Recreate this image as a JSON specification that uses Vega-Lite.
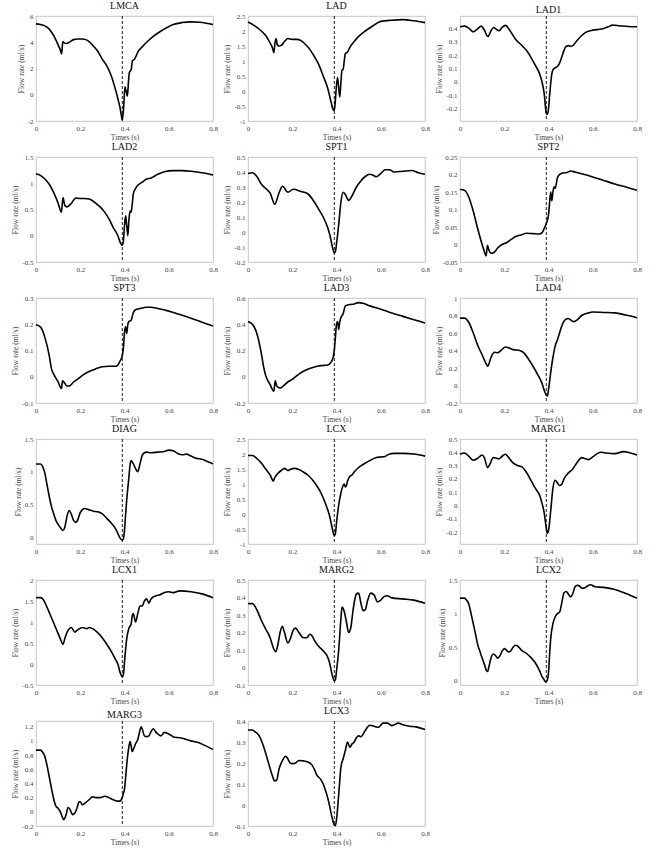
{
"$schema":"https://vega.github.io/schema/vega-lite/v6.json",
"padding":{"left":11,"top":0,"right":5,"bottom":0},
"background":"white",
"config":{
 "view":{"stroke":"#b8b8b8","strokeWidth":0.8},
 "axis":{"labelFont":"Liberation Serif","titleFont":"Liberation Serif","labelFontSize":7,"titleFontSize":7.5,"titleFontWeight":"normal","labelColor":"#444","titleColor":"#444","grid":false,"ticks":false,"domain":false,"labelPadding":3,"titlePadding":2,"labelFlush":false,"labelOverlap":false,"labelExpr":"'' + datum.value"},
 "title":{"font":"Liberation Serif","fontSize":10,"fontWeight":"normal","color":"#111","offset":1},
 "line":{"color":"black","strokeWidth":1.6,"interpolate":"monotone","clip":true},
 "rule":{"color":"black","strokeWidth":0.9,"strokeDash":[3,2]}
},
"datasets":{
 "marker":[{"t":0.39}],
 "LMCA":[{"t":0,"q":5.4},{"t":0.02,"q":5.35},{"t":0.04,"q":5.25},{"t":0.06,"q":5.0},{"t":0.08,"q":4.5},{"t":0.1,"q":3.8},{"t":0.11,"q":3.4},{"t":0.116,"q":3.1},{"t":0.121,"q":4.05},{"t":0.127,"q":3.95},{"t":0.137,"q":3.9},{"t":0.15,"q":4.0},{"t":0.17,"q":4.2},{"t":0.19,"q":4.25},{"t":0.21,"q":4.25},{"t":0.225,"q":4.2},{"t":0.24,"q":4.05},{"t":0.26,"q":3.7},{"t":0.28,"q":3.3},{"t":0.3,"q":2.7},{"t":0.32,"q":2.2},{"t":0.34,"q":1.45},{"t":0.36,"q":0.35},{"t":0.37,"q":-0.3},{"t":0.38,"q":-1.0},{"t":0.385,"q":-1.5},{"t":0.39,"q":-1.95},{"t":0.396,"q":-1.0},{"t":0.402,"q":0.6},{"t":0.407,"q":0.3},{"t":0.413,"q":-0.1},{"t":0.418,"q":1.0},{"t":0.422,"q":1.7},{"t":0.43,"q":1.9},{"t":0.436,"q":2.6},{"t":0.445,"q":2.7},{"t":0.462,"q":3.3},{"t":0.48,"q":3.65},{"t":0.5,"q":4.0},{"t":0.53,"q":4.45},{"t":0.56,"q":4.8},{"t":0.59,"q":5.1},{"t":0.62,"q":5.35},{"t":0.66,"q":5.5},{"t":0.7,"q":5.55},{"t":0.74,"q":5.52},{"t":0.77,"q":5.45},{"t":0.8,"q":5.35}],
 "LAD":[{"t":0,"q":2.3},{"t":0.02,"q":2.22},{"t":0.04,"q":2.12},{"t":0.06,"q":2.0},{"t":0.08,"q":1.85},{"t":0.1,"q":1.6},{"t":0.11,"q":1.45},{"t":0.117,"q":1.28},{"t":0.122,"q":1.6},{"t":0.127,"q":1.75},{"t":0.132,"q":1.55},{"t":0.14,"q":1.5},{"t":0.15,"q":1.52},{"t":0.165,"q":1.65},{"t":0.18,"q":1.75},{"t":0.2,"q":1.72},{"t":0.22,"q":1.72},{"t":0.24,"q":1.68},{"t":0.26,"q":1.55},{"t":0.28,"q":1.38},{"t":0.3,"q":1.15},{"t":0.32,"q":0.88},{"t":0.34,"q":0.5},{"t":0.36,"q":0.1},{"t":0.375,"q":-0.35},{"t":0.385,"q":-0.62},{"t":0.39,"q":-0.65},{"t":0.395,"q":-0.3},{"t":0.4,"q":0.2},{"t":0.405,"q":0.45},{"t":0.41,"q":0.1},{"t":0.415,"q":-0.2},{"t":0.42,"q":0.3},{"t":0.425,"q":0.7},{"t":0.43,"q":0.72},{"t":0.435,"q":1.0},{"t":0.44,"q":1.25},{"t":0.45,"q":1.3},{"t":0.46,"q":1.45},{"t":0.48,"q":1.65},{"t":0.5,"q":1.82},{"t":0.53,"q":2.0},{"t":0.56,"q":2.15},{"t":0.6,"q":2.32},{"t":0.65,"q":2.36},{"t":0.7,"q":2.38},{"t":0.75,"q":2.34},{"t":0.8,"q":2.28}],
 "LAD1":[{"t":0,"q":0.41},{"t":0.02,"q":0.415},{"t":0.04,"q":0.4},{"t":0.059,"q":0.372},{"t":0.08,"q":0.395},{"t":0.096,"q":0.415},{"t":0.11,"q":0.385},{"t":0.126,"q":0.338},{"t":0.14,"q":0.38},{"t":0.152,"q":0.405},{"t":0.165,"q":0.39},{"t":0.176,"q":0.38},{"t":0.19,"q":0.405},{"t":0.206,"q":0.42},{"t":0.22,"q":0.395},{"t":0.25,"q":0.32},{"t":0.28,"q":0.27},{"t":0.3,"q":0.235},{"t":0.32,"q":0.185},{"t":0.34,"q":0.125},{"t":0.36,"q":0.06},{"t":0.37,"q":0.005},{"t":0.38,"q":-0.08},{"t":0.39,"q":-0.23},{"t":0.395,"q":-0.24},{"t":0.4,"q":-0.2},{"t":0.405,"q":-0.1},{"t":0.41,"q":-0.01},{"t":0.415,"q":0.06},{"t":0.42,"q":0.09},{"t":0.43,"q":0.105},{"t":0.44,"q":0.115},{"t":0.45,"q":0.14},{"t":0.46,"q":0.185},{"t":0.47,"q":0.235},{"t":0.48,"q":0.265},{"t":0.49,"q":0.27},{"t":0.5,"q":0.265},{"t":0.51,"q":0.27},{"t":0.53,"q":0.31},{"t":0.55,"q":0.345},{"t":0.57,"q":0.37},{"t":0.6,"q":0.385},{"t":0.64,"q":0.393},{"t":0.67,"q":0.41},{"t":0.69,"q":0.422},{"t":0.72,"q":0.418},{"t":0.76,"q":0.412},{"t":0.8,"q":0.41}],
 "LAD2":[{"t":0,"q":1.18},{"t":0.02,"q":1.15},{"t":0.04,"q":1.08},{"t":0.06,"q":0.98},{"t":0.08,"q":0.82},{"t":0.1,"q":0.62},{"t":0.115,"q":0.45},{"t":0.122,"q":0.73},{"t":0.13,"q":0.58},{"t":0.14,"q":0.55},{"t":0.16,"q":0.62},{"t":0.18,"q":0.72},{"t":0.2,"q":0.71},{"t":0.22,"q":0.71},{"t":0.24,"q":0.7},{"t":0.25,"q":0.68},{"t":0.27,"q":0.62},{"t":0.29,"q":0.55},{"t":0.31,"q":0.45},{"t":0.33,"q":0.32},{"t":0.35,"q":0.15},{"t":0.37,"q":0.0},{"t":0.38,"q":-0.12},{"t":0.39,"q":-0.18},{"t":0.395,"q":-0.1},{"t":0.4,"q":0.2},{"t":0.405,"q":0.38},{"t":0.41,"q":0.2},{"t":0.415,"q":0.0},{"t":0.42,"q":0.3},{"t":0.425,"q":0.47},{"t":0.43,"q":0.45},{"t":0.435,"q":0.6},{"t":0.44,"q":0.8},{"t":0.45,"q":0.9},{"t":0.46,"q":0.96},{"t":0.48,"q":1.02},{"t":0.5,"q":1.08},{"t":0.52,"q":1.1},{"t":0.55,"q":1.17},{"t":0.58,"q":1.22},{"t":0.62,"q":1.24},{"t":0.66,"q":1.24},{"t":0.7,"q":1.23},{"t":0.75,"q":1.2},{"t":0.8,"q":1.16}],
 "SPT1":[{"t":0,"q":0.39},{"t":0.02,"q":0.395},{"t":0.04,"q":0.37},{"t":0.06,"q":0.32},{"t":0.08,"q":0.29},{"t":0.1,"q":0.26},{"t":0.121,"q":0.185},{"t":0.14,"q":0.26},{"t":0.156,"q":0.305},{"t":0.18,"q":0.265},{"t":0.205,"q":0.285},{"t":0.24,"q":0.27},{"t":0.27,"q":0.255},{"t":0.3,"q":0.2},{"t":0.32,"q":0.15},{"t":0.34,"q":0.1},{"t":0.36,"q":0.03},{"t":0.37,"q":-0.02},{"t":0.38,"q":-0.09},{"t":0.39,"q":-0.14},{"t":0.395,"q":-0.13},{"t":0.4,"q":-0.08},{"t":0.41,"q":0.05},{"t":0.42,"q":0.2},{"t":0.43,"q":0.265},{"t":0.44,"q":0.25},{"t":0.45,"q":0.22},{"t":0.455,"q":0.21},{"t":0.47,"q":0.24},{"t":0.49,"q":0.3},{"t":0.51,"q":0.34},{"t":0.53,"q":0.37},{"t":0.55,"q":0.385},{"t":0.57,"q":0.375},{"t":0.58,"q":0.368},{"t":0.6,"q":0.39},{"t":0.62,"q":0.415},{"t":0.64,"q":0.415},{"t":0.66,"q":0.4},{"t":0.7,"q":0.405},{"t":0.74,"q":0.41},{"t":0.77,"q":0.395},{"t":0.8,"q":0.385}],
 "SPT2":[{"t":0,"q":0.157},{"t":0.02,"q":0.155},{"t":0.04,"q":0.135},{"t":0.06,"q":0.095},{"t":0.08,"q":0.045},{"t":0.1,"q":0.0},{"t":0.11,"q":-0.02},{"t":0.118,"q":-0.033},{"t":0.124,"q":-0.002},{"t":0.13,"q":-0.015},{"t":0.14,"q":-0.025},{"t":0.155,"q":-0.022},{"t":0.17,"q":-0.01},{"t":0.19,"q":0.0},{"t":0.21,"q":0.005},{"t":0.23,"q":0.014},{"t":0.25,"q":0.022},{"t":0.28,"q":0.028},{"t":0.3,"q":0.032},{"t":0.33,"q":0.031},{"t":0.36,"q":0.03},{"t":0.37,"q":0.033},{"t":0.38,"q":0.045},{"t":0.39,"q":0.06},{"t":0.4,"q":0.085},{"t":0.405,"q":0.12},{"t":0.41,"q":0.15},{"t":0.415,"q":0.125},{"t":0.42,"q":0.15},{"t":0.425,"q":0.165},{"t":0.43,"q":0.16},{"t":0.44,"q":0.19},{"t":0.45,"q":0.2},{"t":0.47,"q":0.205},{"t":0.48,"q":0.205},{"t":0.5,"q":0.21},{"t":0.52,"q":0.207},{"t":0.55,"q":0.202},{"t":0.6,"q":0.193},{"t":0.65,"q":0.183},{"t":0.7,"q":0.173},{"t":0.75,"q":0.164},{"t":0.8,"q":0.155}],
 "SPT3":[{"t":0,"q":0.198},{"t":0.02,"q":0.19},{"t":0.04,"q":0.15},{"t":0.06,"q":0.08},{"t":0.07,"q":0.03},{"t":0.08,"q":0.01},{"t":0.1,"q":-0.02},{"t":0.115,"q":-0.045},{"t":0.12,"q":-0.015},{"t":0.13,"q":-0.025},{"t":0.14,"q":-0.035},{"t":0.15,"q":-0.035},{"t":0.17,"q":-0.02},{"t":0.19,"q":-0.008},{"t":0.21,"q":0.005},{"t":0.24,"q":0.02},{"t":0.27,"q":0.03},{"t":0.3,"q":0.038},{"t":0.33,"q":0.04},{"t":0.36,"q":0.04},{"t":0.37,"q":0.045},{"t":0.38,"q":0.06},{"t":0.39,"q":0.08},{"t":0.395,"q":0.11},{"t":0.4,"q":0.17},{"t":0.405,"q":0.19},{"t":0.41,"q":0.165},{"t":0.415,"q":0.2},{"t":0.42,"q":0.21},{"t":0.43,"q":0.215},{"t":0.44,"q":0.245},{"t":0.45,"q":0.255},{"t":0.47,"q":0.26},{"t":0.5,"q":0.265},{"t":0.52,"q":0.265},{"t":0.55,"q":0.26},{"t":0.6,"q":0.25},{"t":0.65,"q":0.237},{"t":0.7,"q":0.223},{"t":0.75,"q":0.208},{"t":0.8,"q":0.193}],
 "LAD3":[{"t":0,"q":0.42},{"t":0.02,"q":0.4},{"t":0.04,"q":0.33},{"t":0.06,"q":0.18},{"t":0.07,"q":0.08},{"t":0.08,"q":0.01},{"t":0.1,"q":-0.06},{"t":0.117,"q":-0.11},{"t":0.123,"q":-0.03},{"t":0.13,"q":-0.07},{"t":0.145,"q":-0.085},{"t":0.16,"q":-0.07},{"t":0.18,"q":-0.04},{"t":0.2,"q":-0.02},{"t":0.23,"q":0.02},{"t":0.26,"q":0.05},{"t":0.3,"q":0.075},{"t":0.33,"q":0.085},{"t":0.36,"q":0.09},{"t":0.375,"q":0.11},{"t":0.385,"q":0.15},{"t":0.39,"q":0.2},{"t":0.395,"q":0.3},{"t":0.4,"q":0.4},{"t":0.405,"q":0.42},{"t":0.41,"q":0.36},{"t":0.415,"q":0.42},{"t":0.42,"q":0.45},{"t":0.43,"q":0.48},{"t":0.44,"q":0.54},{"t":0.46,"q":0.55},{"t":0.48,"q":0.555},{"t":0.5,"q":0.565},{"t":0.52,"q":0.56},{"t":0.55,"q":0.54},{"t":0.6,"q":0.515},{"t":0.65,"q":0.485},{"t":0.7,"q":0.46},{"t":0.75,"q":0.435},{"t":0.8,"q":0.41}],
 "LAD4":[{"t":0,"q":0.77},{"t":0.02,"q":0.77},{"t":0.04,"q":0.72},{"t":0.06,"q":0.6},{"t":0.08,"q":0.46},{"t":0.1,"q":0.35},{"t":0.12,"q":0.24},{"t":0.125,"q":0.22},{"t":0.14,"q":0.32},{"t":0.155,"q":0.38},{"t":0.17,"q":0.375},{"t":0.185,"q":0.4},{"t":0.205,"q":0.44},{"t":0.22,"q":0.43},{"t":0.24,"q":0.41},{"t":0.27,"q":0.4},{"t":0.29,"q":0.37},{"t":0.31,"q":0.3},{"t":0.33,"q":0.22},{"t":0.35,"q":0.13},{"t":0.37,"q":0.03},{"t":0.38,"q":-0.05},{"t":0.39,"q":-0.11},{"t":0.395,"q":-0.12},{"t":0.4,"q":-0.05},{"t":0.41,"q":0.15},{"t":0.42,"q":0.32},{"t":0.43,"q":0.45},{"t":0.44,"q":0.52},{"t":0.45,"q":0.6},{"t":0.46,"q":0.68},{"t":0.475,"q":0.75},{"t":0.49,"q":0.765},{"t":0.5,"q":0.75},{"t":0.515,"q":0.73},{"t":0.53,"q":0.75},{"t":0.55,"q":0.8},{"t":0.58,"q":0.83},{"t":0.6,"q":0.84},{"t":0.65,"q":0.835},{"t":0.7,"q":0.83},{"t":0.75,"q":0.805},{"t":0.8,"q":0.775}],
 "DIAG":[{"t":0,"q":1.12},{"t":0.02,"q":1.12},{"t":0.03,"q":1.08},{"t":0.04,"q":0.98},{"t":0.05,"q":0.8},{"t":0.06,"q":0.62},{"t":0.07,"q":0.47},{"t":0.08,"q":0.36},{"t":0.09,"q":0.26},{"t":0.1,"q":0.2},{"t":0.11,"q":0.15},{"t":0.122,"q":0.105},{"t":0.13,"q":0.15},{"t":0.14,"q":0.32},{"t":0.15,"q":0.41},{"t":0.16,"q":0.35},{"t":0.17,"q":0.26},{"t":0.18,"q":0.23},{"t":0.19,"q":0.28},{"t":0.2,"q":0.38},{"t":0.22,"q":0.44},{"t":0.24,"q":0.42},{"t":0.26,"q":0.4},{"t":0.28,"q":0.39},{"t":0.3,"q":0.36},{"t":0.32,"q":0.29},{"t":0.34,"q":0.22},{"t":0.36,"q":0.13},{"t":0.37,"q":0.06},{"t":0.38,"q":-0.01},{"t":0.39,"q":-0.04},{"t":0.395,"q":-0.02},{"t":0.4,"q":0.11},{"t":0.405,"q":0.35},{"t":0.41,"q":0.57},{"t":0.42,"q":0.92},{"t":0.425,"q":1.1},{"t":0.43,"q":1.17},{"t":0.44,"q":1.12},{"t":0.45,"q":1.05},{"t":0.46,"q":1.0},{"t":0.47,"q":1.12},{"t":0.48,"q":1.25},{"t":0.49,"q":1.29},{"t":0.5,"q":1.3},{"t":0.52,"q":1.29},{"t":0.55,"q":1.3},{"t":0.58,"q":1.31},{"t":0.6,"q":1.33},{"t":0.62,"q":1.32},{"t":0.64,"q":1.28},{"t":0.66,"q":1.26},{"t":0.68,"q":1.27},{"t":0.7,"q":1.24},{"t":0.72,"q":1.21},{"t":0.75,"q":1.19},{"t":0.78,"q":1.15},{"t":0.8,"q":1.12}],
 "LCX":[{"t":0,"q":1.95},{"t":0.02,"q":1.95},{"t":0.04,"q":1.85},{"t":0.06,"q":1.7},{"t":0.08,"q":1.5},{"t":0.1,"q":1.3},{"t":0.115,"q":1.1},{"t":0.12,"q":1.2},{"t":0.135,"q":1.35},{"t":0.15,"q":1.45},{"t":0.165,"q":1.52},{"t":0.18,"q":1.45},{"t":0.195,"q":1.5},{"t":0.21,"q":1.52},{"t":0.23,"q":1.48},{"t":0.25,"q":1.4},{"t":0.27,"q":1.3},{"t":0.29,"q":1.15},{"t":0.31,"q":0.95},{"t":0.33,"q":0.7},{"t":0.35,"q":0.35},{"t":0.37,"q":-0.1},{"t":0.38,"q":-0.45},{"t":0.39,"q":-0.72},{"t":0.395,"q":-0.65},{"t":0.4,"q":-0.3},{"t":0.41,"q":0.3},{"t":0.42,"q":0.7},{"t":0.43,"q":0.95},{"t":0.435,"q":1.0},{"t":0.44,"q":0.9},{"t":0.445,"q":0.95},{"t":0.45,"q":1.1},{"t":0.46,"q":1.25},{"t":0.47,"q":1.3},{"t":0.48,"q":1.4},{"t":0.5,"q":1.55},{"t":0.52,"q":1.65},{"t":0.55,"q":1.78},{"t":0.58,"q":1.88},{"t":0.6,"q":1.9},{"t":0.62,"q":1.92},{"t":0.64,"q":2.0},{"t":0.66,"q":2.02},{"t":0.7,"q":2.02},{"t":0.75,"q":2.0},{"t":0.8,"q":1.93}],
 "MARG1":[{"t":0,"q":0.385},{"t":0.02,"q":0.395},{"t":0.04,"q":0.37},{"t":0.06,"q":0.34},{"t":0.08,"q":0.355},{"t":0.1,"q":0.38},{"t":0.11,"q":0.36},{"t":0.125,"q":0.285},{"t":0.135,"q":0.31},{"t":0.15,"q":0.36},{"t":0.165,"q":0.355},{"t":0.175,"q":0.35},{"t":0.19,"q":0.37},{"t":0.205,"q":0.385},{"t":0.22,"q":0.36},{"t":0.24,"q":0.32},{"t":0.26,"q":0.3},{"t":0.28,"q":0.29},{"t":0.3,"q":0.25},{"t":0.32,"q":0.19},{"t":0.34,"q":0.13},{"t":0.36,"q":0.076},{"t":0.37,"q":0.02},{"t":0.38,"q":-0.05},{"t":0.39,"q":-0.17},{"t":0.395,"q":-0.21},{"t":0.4,"q":-0.19},{"t":0.41,"q":-0.04},{"t":0.42,"q":0.13},{"t":0.43,"q":0.19},{"t":0.44,"q":0.17},{"t":0.45,"q":0.15},{"t":0.46,"q":0.16},{"t":0.47,"q":0.2},{"t":0.49,"q":0.245},{"t":0.51,"q":0.275},{"t":0.53,"q":0.325},{"t":0.55,"q":0.36},{"t":0.57,"q":0.35},{"t":0.58,"q":0.345},{"t":0.6,"q":0.365},{"t":0.62,"q":0.39},{"t":0.64,"q":0.4},{"t":0.66,"q":0.395},{"t":0.7,"q":0.39},{"t":0.74,"q":0.405},{"t":0.77,"q":0.395},{"t":0.8,"q":0.38}],
 "LCX1":[{"t":0,"q":1.58},{"t":0.02,"q":1.58},{"t":0.03,"q":1.55},{"t":0.05,"q":1.35},{"t":0.07,"q":1.1},{"t":0.09,"q":0.85},{"t":0.11,"q":0.6},{"t":0.122,"q":0.47},{"t":0.13,"q":0.6},{"t":0.14,"q":0.75},{"t":0.16,"q":0.87},{"t":0.175,"q":0.76},{"t":0.19,"q":0.82},{"t":0.21,"q":0.87},{"t":0.23,"q":0.84},{"t":0.24,"q":0.87},{"t":0.26,"q":0.83},{"t":0.28,"q":0.74},{"t":0.3,"q":0.62},{"t":0.32,"q":0.47},{"t":0.34,"q":0.3},{"t":0.36,"q":0.1},{"t":0.37,"q":0.0},{"t":0.38,"q":-0.2},{"t":0.39,"q":-0.3},{"t":0.395,"q":-0.25},{"t":0.4,"q":0.05},{"t":0.41,"q":0.6},{"t":0.42,"q":0.85},{"t":0.43,"q":0.95},{"t":0.435,"q":1.15},{"t":0.44,"q":1.2},{"t":0.45,"q":1.0},{"t":0.46,"q":1.2},{"t":0.47,"q":1.38},{"t":0.48,"q":1.38},{"t":0.49,"q":1.5},{"t":0.5,"q":1.55},{"t":0.51,"q":1.45},{"t":0.52,"q":1.55},{"t":0.54,"q":1.62},{"t":0.56,"q":1.65},{"t":0.58,"q":1.7},{"t":0.6,"q":1.72},{"t":0.62,"q":1.7},{"t":0.65,"q":1.74},{"t":0.7,"q":1.72},{"t":0.75,"q":1.67},{"t":0.8,"q":1.58}],
 "MARG2":[{"t":0,"q":0.365},{"t":0.02,"q":0.365},{"t":0.04,"q":0.33},{"t":0.06,"q":0.27},{"t":0.08,"q":0.22},{"t":0.1,"q":0.17},{"t":0.115,"q":0.11},{"t":0.125,"q":0.09},{"t":0.135,"q":0.13},{"t":0.145,"q":0.2},{"t":0.155,"q":0.235},{"t":0.165,"q":0.2},{"t":0.18,"q":0.14},{"t":0.19,"q":0.16},{"t":0.205,"q":0.215},{"t":0.215,"q":0.225},{"t":0.23,"q":0.2},{"t":0.25,"q":0.17},{"t":0.265,"q":0.17},{"t":0.28,"q":0.19},{"t":0.29,"q":0.18},{"t":0.3,"q":0.155},{"t":0.32,"q":0.12},{"t":0.34,"q":0.095},{"t":0.36,"q":0.06},{"t":0.37,"q":0.02},{"t":0.38,"q":-0.04},{"t":0.39,"q":-0.075},{"t":0.395,"q":-0.07},{"t":0.4,"q":-0.02},{"t":0.41,"q":0.1},{"t":0.42,"q":0.28},{"t":0.425,"q":0.345},{"t":0.435,"q":0.32},{"t":0.445,"q":0.26},{"t":0.455,"q":0.2},{"t":0.465,"q":0.23},{"t":0.475,"q":0.33},{"t":0.49,"q":0.42},{"t":0.5,"q":0.425},{"t":0.51,"q":0.37},{"t":0.52,"q":0.325},{"t":0.53,"q":0.33},{"t":0.54,"q":0.38},{"t":0.555,"q":0.425},{"t":0.57,"q":0.415},{"t":0.585,"q":0.375},{"t":0.6,"q":0.385},{"t":0.615,"q":0.405},{"t":0.63,"q":0.41},{"t":0.65,"q":0.398},{"t":0.7,"q":0.392},{"t":0.75,"q":0.385},{"t":0.8,"q":0.367}],
 "LCX2":[{"t":0,"q":1.23},{"t":0.02,"q":1.23},{"t":0.03,"q":1.2},{"t":0.04,"q":1.14},{"t":0.05,"q":1.0},{"t":0.06,"q":0.85},{"t":0.07,"q":0.7},{"t":0.08,"q":0.54},{"t":0.09,"q":0.44},{"t":0.1,"q":0.34},{"t":0.11,"q":0.25},{"t":0.12,"q":0.15},{"t":0.125,"q":0.14},{"t":0.13,"q":0.2},{"t":0.14,"q":0.34},{"t":0.15,"q":0.4},{"t":0.16,"q":0.38},{"t":0.17,"q":0.34},{"t":0.18,"q":0.37},{"t":0.19,"q":0.44},{"t":0.2,"q":0.48},{"t":0.21,"q":0.46},{"t":0.22,"q":0.43},{"t":0.23,"q":0.45},{"t":0.24,"q":0.5},{"t":0.25,"q":0.53},{"t":0.26,"q":0.52},{"t":0.28,"q":0.45},{"t":0.3,"q":0.41},{"t":0.32,"q":0.35},{"t":0.34,"q":0.27},{"t":0.36,"q":0.15},{"t":0.37,"q":0.07},{"t":0.38,"q":0.02},{"t":0.385,"q":-0.01},{"t":0.39,"q":-0.01},{"t":0.395,"q":0.02},{"t":0.4,"q":0.12},{"t":0.405,"q":0.4},{"t":0.41,"q":0.63},{"t":0.42,"q":0.85},{"t":0.43,"q":0.95},{"t":0.44,"q":1.0},{"t":0.45,"q":1.02},{"t":0.46,"q":1.16},{"t":0.47,"q":1.31},{"t":0.48,"q":1.33},{"t":0.49,"q":1.29},{"t":0.5,"q":1.25},{"t":0.51,"q":1.3},{"t":0.52,"q":1.4},{"t":0.53,"q":1.42},{"t":0.54,"q":1.41},{"t":0.55,"q":1.38},{"t":0.56,"q":1.38},{"t":0.58,"q":1.42},{"t":0.59,"q":1.43},{"t":0.61,"q":1.4},{"t":0.65,"q":1.39},{"t":0.7,"q":1.36},{"t":0.75,"q":1.3},{"t":0.8,"q":1.23}],
 "MARG3":[{"t":0,"q":0.87},{"t":0.02,"q":0.87},{"t":0.03,"q":0.84},{"t":0.04,"q":0.78},{"t":0.05,"q":0.65},{"t":0.06,"q":0.49},{"t":0.07,"q":0.33},{"t":0.08,"q":0.18},{"t":0.09,"q":0.08},{"t":0.1,"q":0.05},{"t":0.11,"q":0.0},{"t":0.12,"q":-0.08},{"t":0.125,"q":-0.11},{"t":0.135,"q":-0.05},{"t":0.145,"q":0.06},{"t":0.15,"q":0.05},{"t":0.16,"q":-0.01},{"t":0.165,"q":-0.04},{"t":0.175,"q":-0.02},{"t":0.185,"q":0.05},{"t":0.195,"q":0.14},{"t":0.2,"q":0.14},{"t":0.21,"q":0.1},{"t":0.22,"q":0.12},{"t":0.24,"q":0.17},{"t":0.255,"q":0.21},{"t":0.27,"q":0.2},{"t":0.29,"q":0.2},{"t":0.31,"q":0.22},{"t":0.33,"q":0.2},{"t":0.35,"q":0.17},{"t":0.37,"q":0.15},{"t":0.38,"q":0.15},{"t":0.385,"q":0.17},{"t":0.39,"q":0.2},{"t":0.395,"q":0.26},{"t":0.4,"q":0.32},{"t":0.405,"q":0.48},{"t":0.41,"q":0.66},{"t":0.42,"q":0.92},{"t":0.425,"q":0.99},{"t":0.43,"q":0.93},{"t":0.435,"q":0.85},{"t":0.44,"q":0.88},{"t":0.45,"q":0.96},{"t":0.46,"q":1.02},{"t":0.47,"q":1.15},{"t":0.475,"q":1.2},{"t":0.48,"q":1.17},{"t":0.49,"q":1.07},{"t":0.5,"q":1.06},{"t":0.51,"q":1.07},{"t":0.52,"q":1.13},{"t":0.53,"q":1.17},{"t":0.54,"q":1.13},{"t":0.55,"q":1.1},{"t":0.565,"q":1.07},{"t":0.58,"q":1.12},{"t":0.59,"q":1.11},{"t":0.61,"q":1.08},{"t":0.625,"q":1.05},{"t":0.65,"q":1.045},{"t":0.67,"q":1.03},{"t":0.7,"q":1.0},{"t":0.73,"q":0.98},{"t":0.76,"q":0.94},{"t":0.8,"q":0.88}],
 "LCX3":[{"t":0,"q":0.357},{"t":0.02,"q":0.357},{"t":0.03,"q":0.35},{"t":0.05,"q":0.33},{"t":0.07,"q":0.28},{"t":0.09,"q":0.21},{"t":0.11,"q":0.14},{"t":0.12,"q":0.115},{"t":0.13,"q":0.12},{"t":0.14,"q":0.17},{"t":0.155,"q":0.21},{"t":0.17,"q":0.232},{"t":0.18,"q":0.22},{"t":0.19,"q":0.2},{"t":0.2,"q":0.197},{"t":0.215,"q":0.2},{"t":0.23,"q":0.212},{"t":0.25,"q":0.21},{"t":0.27,"q":0.205},{"t":0.29,"q":0.19},{"t":0.3,"q":0.17},{"t":0.31,"q":0.145},{"t":0.33,"q":0.12},{"t":0.34,"q":0.1},{"t":0.35,"q":0.07},{"t":0.36,"q":0.035},{"t":0.37,"q":-0.01},{"t":0.38,"q":-0.06},{"t":0.39,"q":-0.095},{"t":0.395,"q":-0.098},{"t":0.4,"q":-0.07},{"t":0.41,"q":0.05},{"t":0.42,"q":0.18},{"t":0.43,"q":0.22},{"t":0.44,"q":0.26},{"t":0.45,"q":0.3},{"t":0.46,"q":0.275},{"t":0.47,"q":0.29},{"t":0.48,"q":0.3},{"t":0.49,"q":0.32},{"t":0.5,"q":0.33},{"t":0.51,"q":0.325},{"t":0.53,"q":0.355},{"t":0.55,"q":0.38},{"t":0.57,"q":0.375},{"t":0.59,"q":0.37},{"t":0.61,"q":0.39},{"t":0.63,"q":0.39},{"t":0.65,"q":0.378},{"t":0.68,"q":0.39},{"t":0.7,"q":0.382},{"t":0.73,"q":0.375},{"t":0.76,"q":0.372},{"t":0.8,"q":0.36}]
},
"columns":3,
"spacing":{"row":36,"column":35},
"bounds":"flush",
"concat":[
 {"title":"LMCA","width":177,"height":105,"layer":[{"data":{"name":"LMCA"},"mark":"line","encoding":{"x":{"field":"t","type":"quantitative","scale":{"domain":[0,0.8],"nice":false},"axis":{"values":[0,0.2,0.4,0.6,0.8],"title":"Times (s)"}},"y":{"field":"q","type":"quantitative","scale":{"domain":[-2,6],"nice":false,"zero":false},"axis":{"values":[-2,0,2,4,6],"title":"Flow rate (ml/s)"}}}},{"data":{"name":"marker"},"mark":"rule","encoding":{"x":{"field":"t","type":"quantitative"}}}]},
 {"title":"LAD","width":177,"height":105,"layer":[{"data":{"name":"LAD"},"mark":"line","encoding":{"x":{"field":"t","type":"quantitative","scale":{"domain":[0,0.8],"nice":false},"axis":{"values":[0,0.2,0.4,0.6,0.8],"title":"Times (s)"}},"y":{"field":"q","type":"quantitative","scale":{"domain":[-1,2.5],"nice":false,"zero":false},"axis":{"values":[-1,-0.5,0,0.5,1,1.5,2,2.5],"title":"Flow rate (ml/s)"}}}},{"data":{"name":"marker"},"mark":"rule","encoding":{"x":{"field":"t","type":"quantitative"}}}]},
 {"title":"LAD1","width":177,"height":105,"layer":[{"data":{"name":"LAD1"},"mark":"line","encoding":{"x":{"field":"t","type":"quantitative","scale":{"domain":[0,0.8],"nice":false},"axis":{"values":[0,0.2,0.4,0.6,0.8],"title":"Times (s)"}},"y":{"field":"q","type":"quantitative","scale":{"domain":[-0.29,0.49],"nice":false,"zero":false},"axis":{"values":[-0.2,-0.1,0,0.1,0.2,0.3,0.4],"title":"Flow rate (ml/s)"}}}},{"data":{"name":"marker"},"mark":"rule","encoding":{"x":{"field":"t","type":"quantitative"}}}]},
 {"title":"LAD2","width":177,"height":105,"layer":[{"data":{"name":"LAD2"},"mark":"line","encoding":{"x":{"field":"t","type":"quantitative","scale":{"domain":[0,0.8],"nice":false},"axis":{"values":[0,0.2,0.4,0.6,0.8],"title":"Times (s)"}},"y":{"field":"q","type":"quantitative","scale":{"domain":[-0.5,1.5],"nice":false,"zero":false},"axis":{"values":[-0.5,0,0.5,1,1.5],"title":"Flow rate (ml/s)"}}}},{"data":{"name":"marker"},"mark":"rule","encoding":{"x":{"field":"t","type":"quantitative"}}}]},
 {"title":"SPT1","width":177,"height":105,"layer":[{"data":{"name":"SPT1"},"mark":"line","encoding":{"x":{"field":"t","type":"quantitative","scale":{"domain":[0,0.8],"nice":false},"axis":{"values":[0,0.2,0.4,0.6,0.8],"title":"Times (s)"}},"y":{"field":"q","type":"quantitative","scale":{"domain":[-0.2,0.5],"nice":false,"zero":false},"axis":{"values":[-0.2,-0.1,0,0.1,0.2,0.3,0.4,0.5],"title":"Flow rate (ml/s)"}}}},{"data":{"name":"marker"},"mark":"rule","encoding":{"x":{"field":"t","type":"quantitative"}}}]},
 {"title":"SPT2","width":177,"height":105,"layer":[{"data":{"name":"SPT2"},"mark":"line","encoding":{"x":{"field":"t","type":"quantitative","scale":{"domain":[0,0.8],"nice":false},"axis":{"values":[0,0.2,0.4,0.6,0.8],"title":"Times (s)"}},"y":{"field":"q","type":"quantitative","scale":{"domain":[-0.05,0.25],"nice":false,"zero":false},"axis":{"values":[-0.05,0,0.05,0.1,0.15,0.2,0.25],"title":"Flow rate (ml/s)"}}}},{"data":{"name":"marker"},"mark":"rule","encoding":{"x":{"field":"t","type":"quantitative"}}}]},
 {"title":"SPT3","width":177,"height":105,"layer":[{"data":{"name":"SPT3"},"mark":"line","encoding":{"x":{"field":"t","type":"quantitative","scale":{"domain":[0,0.8],"nice":false},"axis":{"values":[0,0.2,0.4,0.6,0.8],"title":"Times (s)"}},"y":{"field":"q","type":"quantitative","scale":{"domain":[-0.1,0.3],"nice":false,"zero":false},"axis":{"values":[-0.1,0,0.1,0.2,0.3],"title":"Flow rate (ml/s)"}}}},{"data":{"name":"marker"},"mark":"rule","encoding":{"x":{"field":"t","type":"quantitative"}}}]},
 {"title":"LAD3","width":177,"height":105,"layer":[{"data":{"name":"LAD3"},"mark":"line","encoding":{"x":{"field":"t","type":"quantitative","scale":{"domain":[0,0.8],"nice":false},"axis":{"values":[0,0.2,0.4,0.6,0.8],"title":"Times (s)"}},"y":{"field":"q","type":"quantitative","scale":{"domain":[-0.2,0.6],"nice":false,"zero":false},"axis":{"values":[-0.2,0,0.2,0.4,0.6],"title":"Flow rate (ml/s)"}}}},{"data":{"name":"marker"},"mark":"rule","encoding":{"x":{"field":"t","type":"quantitative"}}}]},
 {"title":"LAD4","width":177,"height":105,"layer":[{"data":{"name":"LAD4"},"mark":"line","encoding":{"x":{"field":"t","type":"quantitative","scale":{"domain":[0,0.8],"nice":false},"axis":{"values":[0,0.2,0.4,0.6,0.8],"title":"Times (s)"}},"y":{"field":"q","type":"quantitative","scale":{"domain":[-0.2,1],"nice":false,"zero":false},"axis":{"values":[-0.2,0,0.2,0.4,0.6,0.8,1],"title":"Flow rate (ml/s)"}}}},{"data":{"name":"marker"},"mark":"rule","encoding":{"x":{"field":"t","type":"quantitative"}}}]},
 {"title":"DIAG","width":177,"height":105,"layer":[{"data":{"name":"DIAG"},"mark":"line","encoding":{"x":{"field":"t","type":"quantitative","scale":{"domain":[0,0.8],"nice":false},"axis":{"values":[0,0.2,0.4,0.6,0.8],"title":"Times (s)"}},"y":{"field":"q","type":"quantitative","scale":{"domain":[-0.1,1.5],"nice":false,"zero":false},"axis":{"values":[0,0.5,1,1.5],"title":"Flow rate (ml/s)"}}}},{"data":{"name":"marker"},"mark":"rule","encoding":{"x":{"field":"t","type":"quantitative"}}}]},
 {"title":"LCX","width":177,"height":105,"layer":[{"data":{"name":"LCX"},"mark":"line","encoding":{"x":{"field":"t","type":"quantitative","scale":{"domain":[0,0.8],"nice":false},"axis":{"values":[0,0.2,0.4,0.6,0.8],"title":"Times (s)"}},"y":{"field":"q","type":"quantitative","scale":{"domain":[-1,2.5],"nice":false,"zero":false},"axis":{"values":[-1,-0.5,0,0.5,1,1.5,2,2.5],"title":"Flow rate (ml/s)"}}}},{"data":{"name":"marker"},"mark":"rule","encoding":{"x":{"field":"t","type":"quantitative"}}}]},
 {"title":"MARG1","width":177,"height":105,"layer":[{"data":{"name":"MARG1"},"mark":"line","encoding":{"x":{"field":"t","type":"quantitative","scale":{"domain":[0,0.8],"nice":false},"axis":{"values":[0,0.2,0.4,0.6,0.8],"title":"Times (s)"}},"y":{"field":"q","type":"quantitative","scale":{"domain":[-0.29,0.5],"nice":false,"zero":false},"axis":{"values":[-0.2,-0.1,0,0.1,0.2,0.3,0.4,0.5],"title":"Flow rate (ml/s)"}}}},{"data":{"name":"marker"},"mark":"rule","encoding":{"x":{"field":"t","type":"quantitative"}}}]},
 {"title":"LCX1","width":177,"height":105,"layer":[{"data":{"name":"LCX1"},"mark":"line","encoding":{"x":{"field":"t","type":"quantitative","scale":{"domain":[0,0.8],"nice":false},"axis":{"values":[0,0.2,0.4,0.6,0.8],"title":"Times (s)"}},"y":{"field":"q","type":"quantitative","scale":{"domain":[-0.5,2],"nice":false,"zero":false},"axis":{"values":[-0.5,0,0.5,1,1.5,2],"title":"Flow rate (ml/s)"}}}},{"data":{"name":"marker"},"mark":"rule","encoding":{"x":{"field":"t","type":"quantitative"}}}]},
 {"title":"MARG2","width":177,"height":105,"layer":[{"data":{"name":"MARG2"},"mark":"line","encoding":{"x":{"field":"t","type":"quantitative","scale":{"domain":[0,0.8],"nice":false},"axis":{"values":[0,0.2,0.4,0.6,0.8],"title":"Times (s)"}},"y":{"field":"q","type":"quantitative","scale":{"domain":[-0.1,0.5],"nice":false,"zero":false},"axis":{"values":[-0.1,0,0.1,0.2,0.3,0.4,0.5],"title":"Flow rate (ml/s)"}}}},{"data":{"name":"marker"},"mark":"rule","encoding":{"x":{"field":"t","type":"quantitative"}}}]},
 {"title":"LCX2","width":177,"height":105,"layer":[{"data":{"name":"LCX2"},"mark":"line","encoding":{"x":{"field":"t","type":"quantitative","scale":{"domain":[0,0.8],"nice":false},"axis":{"values":[0,0.2,0.4,0.6,0.8],"title":"Times (s)"}},"y":{"field":"q","type":"quantitative","scale":{"domain":[-0.06,1.5],"nice":false,"zero":false},"axis":{"values":[0,0.5,1,1.5],"title":"Flow rate (ml/s)"}}}},{"data":{"name":"marker"},"mark":"rule","encoding":{"x":{"field":"t","type":"quantitative"}}}]},
 {"title":"MARG3","width":177,"height":105,"layer":[{"data":{"name":"MARG3"},"mark":"line","encoding":{"x":{"field":"t","type":"quantitative","scale":{"domain":[0,0.8],"nice":false},"axis":{"values":[0,0.2,0.4,0.6,0.8],"title":"Times (s)"}},"y":{"field":"q","type":"quantitative","scale":{"domain":[-0.2,1.28],"nice":false,"zero":false},"axis":{"values":[-0.2,0,0.2,0.4,0.6,0.8,1,1.2],"title":"Flow rate (ml/s)"}}}},{"data":{"name":"marker"},"mark":"rule","encoding":{"x":{"field":"t","type":"quantitative"}}}]},
 {"title":"LCX3","width":177,"height":105,"layer":[{"data":{"name":"LCX3"},"mark":"line","encoding":{"x":{"field":"t","type":"quantitative","scale":{"domain":[0,0.8],"nice":false},"axis":{"values":[0,0.2,0.4,0.6,0.8],"title":"Times (s)"}},"y":{"field":"q","type":"quantitative","scale":{"domain":[-0.1,0.4],"nice":false,"zero":false},"axis":{"values":[-0.1,0,0.1,0.2,0.3,0.4],"title":"Flow rate (ml/s)"}}}},{"data":{"name":"marker"},"mark":"rule","encoding":{"x":{"field":"t","type":"quantitative"}}}]}
]
}
